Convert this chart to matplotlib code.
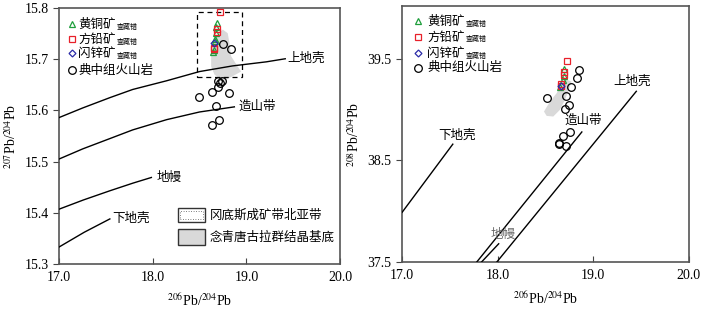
import matplotlib
matplotlib.use('Agg')
import matplotlib.pyplot as plt
from matplotlib.patches import Rectangle

plt.rcParams['font.family'] = ['Liberation Serif', 'Noto Sans CJK SC']
plt.rcParams['mathtext.fontset'] = 'stix'

CJK = ['Noto Sans CJK SC', 'DejaVu Sans']

# ---- left panel data: 206Pb/204Pb vs 207Pb/204Pb
cp_x7 = [18.688, 18.678, 18.678, 18.667, 18.660, 18.650, 18.641]
cp_y7 = [15.770, 15.764, 15.751, 15.740, 15.735, 15.718, 15.714]
gn_x7 = [18.716, 18.684, 18.684, 18.652, 18.652]
gn_y7 = [15.793, 15.759, 15.753, 15.723, 15.720]
sp_x7 = [18.652]
sp_y7 = [15.731]
vo_x7 = [18.748, 18.833, 18.695, 18.741, 18.723, 18.695, 18.493, 18.628, 18.812, 18.673, 18.631, 18.710]
vo_y7 = [15.730, 15.721, 15.658, 15.658, 15.654, 15.646, 15.627, 15.637, 15.634, 15.609, 15.572, 15.581]

base_x7 = [18.748, 18.801, 18.819, 18.837, 18.907, 18.944, 18.854, 18.784, 18.748, 18.713, 18.660, 18.624, 18.624, 18.641, 18.678]
base_y7 = [15.758, 15.751, 15.732, 15.706, 15.686, 15.676, 15.667, 15.660, 15.657, 15.663, 15.670, 15.686, 15.706, 15.725, 15.745]
box7 = [18.47, 15.665, 18.95, 15.793]  # x0, y0, x1, y1

uc_x7 = [17.0, 17.255, 17.543, 17.787, 18.149, 18.5, 18.851, 19.213, 19.415]
uc_y7 = [15.586, 15.605, 15.625, 15.641, 15.658, 15.676, 15.687, 15.695, 15.701]
or_x7 = [17.0, 17.255, 17.543, 17.787, 18.149, 18.5, 18.872]
or_y7 = [15.505, 15.525, 15.545, 15.562, 15.582, 15.597, 15.607]
ma_x7 = [17.0, 17.26, 17.543, 17.79, 17.986]
ma_y7 = [15.407, 15.425, 15.443, 15.458, 15.469]
lc_x7 = [17.0, 17.27, 17.543]
lc_y7 = [15.333, 15.362, 15.388]

# ---- right panel data: 206Pb/204Pb vs 208Pb/204Pb
cp_x8 = [18.697, 18.686, 18.650, 18.690]
cp_y8 = [39.400, 39.290, 39.220, 39.330]
gn_x8 = [18.728, 18.697, 18.697, 18.659, 18.659]
gn_y8 = [39.483, 39.369, 39.342, 39.251, 39.234]
sp_x8 = [18.659]
sp_y8 = [39.234]
vo_x8 = [18.853, 18.826, 18.766, 18.512, 18.714, 18.746, 18.707, 18.756, 18.686, 18.638, 18.641, 18.714]
vo_y8 = [39.385, 39.310, 39.220, 39.119, 39.129, 39.047, 39.004, 38.778, 38.744, 38.675, 38.663, 38.646]

base_x8 = [18.703, 18.773, 18.748, 18.703, 18.651, 18.581, 18.512, 18.484, 18.547, 18.617, 18.651]
base_y8 = [39.300, 39.276, 39.211, 39.096, 38.998, 38.932, 38.938, 38.981, 39.079, 39.162, 39.227]

uc_x8 = [17.99, 19.45]
uc_y8 = [37.5, 39.18]
or_x8 = [17.78, 18.88]
or_y8 = [37.5, 38.78]
ma_x8 = [17.83, 18.01]
ma_y8 = [37.5, 37.68]
lc_x8 = [17.0, 17.53]
lc_y8 = [37.99, 38.66]

xticks = [17.0, 18.0, 19.0, 20.0]
yticks7 = [15.3, 15.4, 15.5, 15.6, 15.7, 15.8]
yticks8 = [37.5, 38.5, 39.5]

fig = plt.figure(figsize=(7.08, 3.12), dpi=100)
ax1 = fig.add_axes([0.0833, 0.154, 0.397, 0.820])
ax2 = fig.add_axes([0.568, 0.160, 0.405, 0.821])

green = '#1f9e3c'
red = '#e8202a'
blue = '#2b2ba8'


def style(ax, yt, fmt):
    ax.set_xlim(17.0, 20.0)
    ax.set_xticks(xticks)
    ax.set_xticklabels(['%.1f' % v for v in xticks])
    ax.set_yticks(yt)
    ax.set_yticklabels([fmt % v for v in yt])
    ax.tick_params(axis='x', direction='in', length=4, labelsize=10, color='#444', pad=5)
    ax.tick_params(axis='y', direction='out', length=4, labelsize=10, color='#444')
    for s in ax.spines.values():
        s.set_color('#555555')
        s.set_linewidth(1.2)
    ax.set_xlabel(r'$^{206}$Pb/$^{204}$Pb', fontsize=10, labelpad=6)


def points(ax, cx, cy, gx, gy, sx, sy, vx, vy):
    ax.plot(vx, vy, 'o', ms=5.5, mfc='none', mec='black', mew=0.9, ls='none', zorder=4)
    ax.plot(cx, cy, '^', ms=4, mfc='none', mec=green, mew=0.9, ls='none', zorder=5)
    ax.plot(gx, gy, 's', ms=4.5, mfc='none', mec=red, mew=0.9, ls='none', zorder=5)
    ax.plot(sx, sy, 'D', ms=3.5, mfc='none', mec=blue, mew=0.9, ls='none', zorder=6)


def legend(ax, xm, xt, ys):
    names = ['黄铜矿', '方铅矿', '闪锌矿', '典中组火山岩']
    marks = [('^', green, 4), ('s', red, 4.5), ('D', blue, 3.5), ('o', 'black', 5.5)]
    for (m, c, s), n, y in zip(marks, names, ys):
        ax.plot([xm], [y], m, ms=s, mfc='none', mec=c, mew=0.9, transform=ax.transAxes, clip_on=False)
        t = ax.text(xt, y, n, fontsize=9, family=CJK, va='center', ha='left', transform=ax.transAxes)
        if n != '典中组火山岩':
            ax.annotate('查藏错', xy=(1, 0), xycoords=t, xytext=(1, 0), textcoords='offset points',
                        fontsize=5, family=CJK, va='bottom', ha='left')


# ---------- left
ax1.fill(base_x7, base_y7, color='#d9d9d9', lw=0, zorder=1)
ax1.add_patch(Rectangle((box7[0], box7[1]), box7[2] - box7[0], box7[3] - box7[1],
                        fill=False, ls=(0, (4, 3)), lw=0.9, ec='black', zorder=2))
for xs, ys in [(uc_x7, uc_y7), (or_x7, or_y7), (ma_x7, ma_y7), (lc_x7, lc_y7)]:
    ax1.plot(xs, ys, color='black', lw=1.0, zorder=3)
ax1.text(19.44, 15.701, '上地壳', fontsize=9, family=CJK, va='center', ha='left')
ax1.text(18.92, 15.608, '造山带', fontsize=9, family=CJK, va='center', ha='left')
ax1.text(18.04, 15.469, '地幔', fontsize=9, family=CJK, va='center', ha='left')
ax1.text(17.57, 15.389, '下地壳', fontsize=9, family=CJK, va='center', ha='left')
points(ax1, cp_x7, cp_y7, gn_x7, gn_y7, sp_x7, sp_y7, vo_x7, vo_y7)
ax1.set_ylim(15.3, 15.8)
style(ax1, yticks7, '%.1f')
ax1.set_ylabel(r'$^{207}$Pb/$^{204}$Pb', fontsize=10, labelpad=4)
legend(ax1, 0.045, 0.068, [0.9375, 0.878, 0.823, 0.758])

ax1.add_patch(Rectangle((0.423, 0.164), 0.097, 0.055, transform=ax1.transAxes,
                        fc='white', ec='#333333', lw=1.0, zorder=6))
ax1.add_patch(Rectangle((0.432, 0.175), 0.079, 0.033, transform=ax1.transAxes,
                        fill=False, ec='#555555', lw=0.6, ls=(0, (1, 2)), zorder=7))
ax1.add_patch(Rectangle((0.423, 0.074), 0.097, 0.063, transform=ax1.transAxes,
                        fc='#d9d9d9', ec='#333333', lw=1.0, zorder=6))
ax1.text(0.537, 0.1915, '冈底斯成矿带北亚带', fontsize=9, family=CJK, va='center', ha='left',
         transform=ax1.transAxes)
ax1.text(0.537, 0.105, '念青唐古拉群结晶基底', fontsize=9, family=CJK, va='center', ha='left',
         transform=ax1.transAxes)

# ---------- right
ax2.fill(base_x8, base_y8, color='#d9d9d9', lw=0, zorder=1)
for xs, ys in [(uc_x8, uc_y8), (or_x8, or_y8), (ma_x8, ma_y8), (lc_x8, lc_y8)]:
    ax2.plot(xs, ys, color='black', lw=1.0, zorder=3)
ax2.text(19.41, 39.283, '上地壳', fontsize=9, family=CJK, va='center', ha='center')
ax2.text(18.89, 38.89, '造山带', fontsize=9, family=CJK, va='center', ha='center')
ax2.text(17.575, 38.75, '下地壳', fontsize=9, family=CJK, va='center', ha='center')
ax2.text(18.055, 37.77, '地幔', fontsize=9, family=CJK, va='center', ha='center', color='#666666')
points(ax2, cp_x8, cp_y8, gn_x8, gn_y8, sp_x8, sp_y8, vo_x8, vo_y8)
ax2.set_ylim(37.5, 40.02)
style(ax2, yticks8, '%.1f')
ax2.set_ylabel(r'$^{208}$Pb/$^{204}$Pb', fontsize=10, labelpad=4)
legend(ax2, 0.056, 0.087, [0.941, 0.879, 0.816, 0.758])

fig.savefig('out.png', dpi=100)
